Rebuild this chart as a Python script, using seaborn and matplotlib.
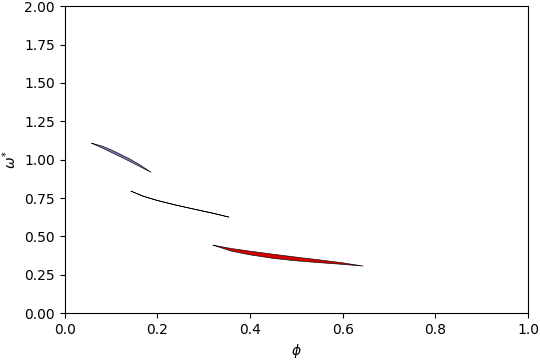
import matplotlib
matplotlib.use("Agg")
import matplotlib.pyplot as plt
import seaborn as sns
import numpy as np
import pandas as pd

# Region 1 (blue)
phi_blue = [0.058, 0.08, 0.10, 0.12, 0.14, 0.16, 0.186]
upper_blue = [1.107, 1.089, 1.064, 1.035, 1.005, 0.970, 0.918]
lower_blue = [1.107, 1.077, 1.048, 1.019, 0.989, 0.958, 0.918]

# Region 2 (black, very thin)
phi_black = [0.143, 0.17, 0.20, 0.24, 0.28, 0.32, 0.354]
upper_black = [0.795, 0.762, 0.735, 0.705, 0.678, 0.652, 0.627]
lower_black = [0.795, 0.760, 0.733, 0.703, 0.676, 0.650, 0.625]

# Region 3 (red)
phi_red = [0.32, 0.36, 0.40, 0.45, 0.50, 0.55, 0.60, 0.644]
upper_red = [0.443, 0.421, 0.404, 0.384, 0.365, 0.347, 0.328, 0.307]
lower_red = [0.443, 0.404, 0.380, 0.357, 0.341, 0.329, 0.318, 0.307]

fig, ax = plt.subplots(figsize=(5.4, 3.6), dpi=100)

regions = [
    (phi_blue, upper_blue, lower_blue, "#7b7bc0"),
    (phi_black, upper_black, lower_black, "#000000"),
    (phi_red, upper_red, lower_red, "#d40000"),
]
for phi, up, lo, col in regions:
    ax.fill_between(phi, lo, up, facecolor=col, edgecolor="none", linewidth=0)
    df = pd.DataFrame({"phi": phi + phi[::-1], "w": up + lo[::-1]})
    sns.lineplot(data=df, x="phi", y="w", sort=False, color="black", lw=0.45, ax=ax, estimator=None)

ax.set_xlim(0, 1)
ax.set_ylim(0, 2)
ax.set_xticks([0.0, 0.2, 0.4, 0.6, 0.8, 1.0])
ax.set_yticks([0.0, 0.25, 0.5, 0.75, 1.0, 1.25, 1.5, 1.75, 2.0])
ax.set_yticklabels(["0.00", "0.25", "0.50", "0.75", "1.00", "1.25", "1.50", "1.75", "2.00"])
ax.set_xlabel(r"$\phi$")
ax.set_ylabel(r"$\omega^{*}$")
fig.subplots_adjust(left=0.12, right=0.978, top=0.983, bottom=0.13)
fig.savefig("out.png", dpi=100)
